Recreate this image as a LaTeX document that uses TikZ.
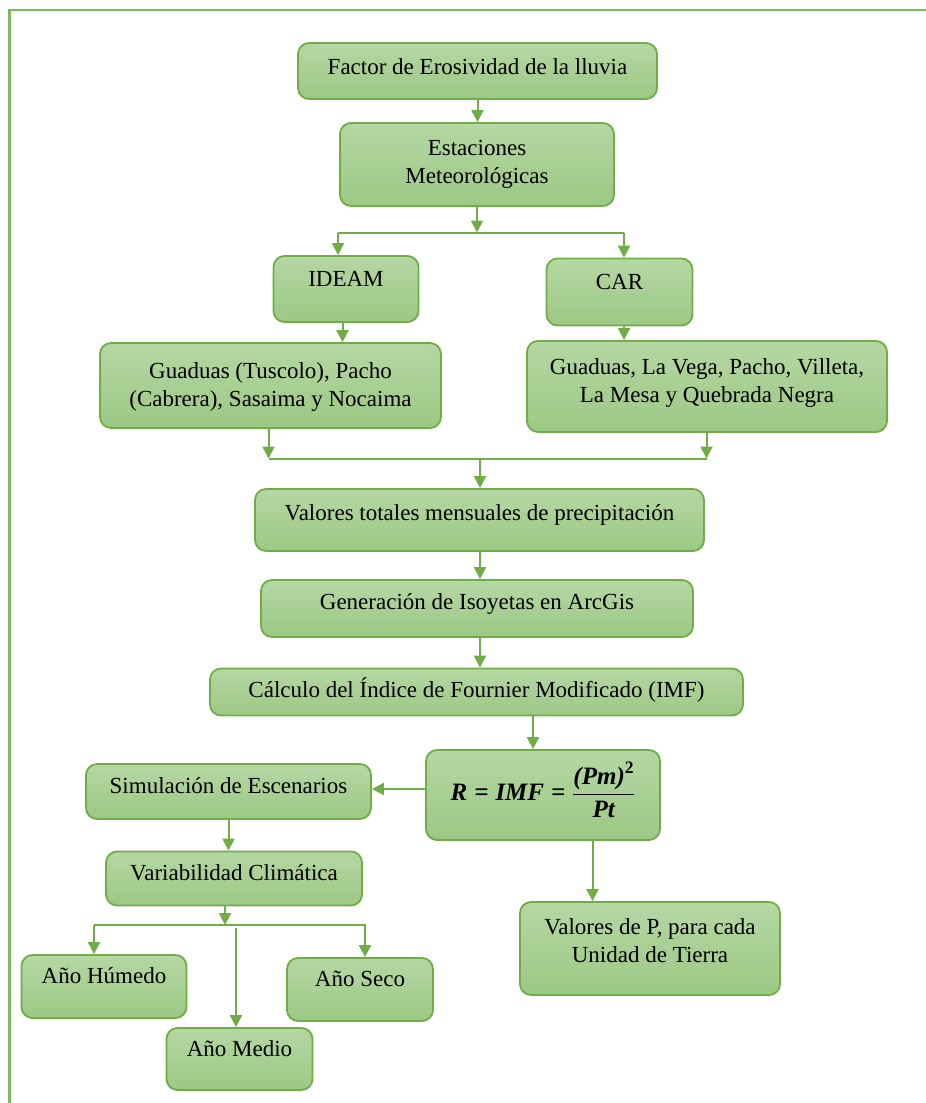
\documentclass[tikz,border=0pt]{standalone}
\usepackage{amsmath}
\usepackage{fontspec}
\setmainfont{Liberation Serif}
\usetikzlibrary{arrows.meta}

\definecolor{boxline}{HTML}{70AD47}
\definecolor{boxtop}{HTML}{B5D7A4}
\definecolor{boxbot}{HTML}{9CC884}
\definecolor{linkcol}{HTML}{70AD47}
\definecolor{framecol}{HTML}{7DBA5B}

\newcommand{\bit}[1]{\text{\bfseries\itshape #1}}

\tikzset{
  box/.style={draw=boxline, line width=1.8pt, rounded corners=11pt,
    top color=boxtop, bottom color=boxbot, inner sep=0pt},
  lbl/.style={font=\fontsize{23}{28}\selectfont, align=center, inner sep=0pt},
  link/.style={draw=linkcol, line width=2pt},
  arr/.style={link, -{Triangle[length=12pt,width=12pt]}},
  frame/.style={draw=framecol, line width=2.2pt},
}

\begin{document}
\begin{tikzpicture}[x=1pt, y=-1pt]
\useasboundingbox (0,0) rectangle (926,1103);

% outer frame
\draw[frame] (9.5,1103) -- (9.5,10) -- (926,10);

% boxes and their texts
\node[box, minimum width=359, minimum height=56] (fac) at (477.5,71) {};
\node[lbl] (fac-t) at (477.5,67) {Factor de Erosividad de la lluvia};

\node[box, minimum width=274, minimum height=83] (est) at (477,164.5) {};
\node[lbl] (est-t) at (477,164) {Estaciones\\Meteorológicas};

\node[box, minimum width=145, minimum height=66] (ideam) at (346,289) {};
\node[lbl] (ideam-t) at (346,278.5) {IDEAM};

\node[box, minimum width=146, minimum height=67] (car) at (619.5,292) {};
\node[lbl] (car-t) at (619.5,281.5) {CAR};

\node[box, minimum width=341, minimum height=85] (lbox) at (270.5,385.5) {};
\node[lbl] (lbox-t) at (270.5,387) {Guaduas (Tuscolo), Pacho\\(Cabrera), Sasaima y Nocaima};

\node[box, minimum width=360, minimum height=91] (rbox) at (707,386.5) {};
\node[lbl] (rbox-t) at (707,382.5) {Guaduas, La Vega, Pacho, Villeta,\\La Mesa y Quebrada Negra};

\node[box, minimum width=449, minimum height=62] (val) at (479.5,520) {};
\node[lbl] (val-t) at (479.5,515) {Valores totales mensuales de precipitación};

\node[box, minimum width=432, minimum height=57] (gen) at (477,608.5) {};
\node[lbl] (gen-t) at (477,604) {Generación de Isoyetas en ArcGis};

\node[box, minimum width=533, minimum height=47] (calc) at (476.5,692) {};
\node[lbl] (calc-t) at (476.5,690) {Cálculo del Índice de Fournier Modificado (IMF)};

\node[box, minimum width=234, minimum height=90] (rbx) at (543,795) {};
\node[lbl, font=\fontsize{25}{30}\selectfont] (rbx-t) at (543,790)
  {$\displaystyle \bit{R\;=\;IMF\;=\;}\frac{\bit{(Pm)}^{\text{\bfseries 2}}}{\bit{Pt}}$};

\node[box, minimum width=285, minimum height=55] (sim) at (228.5,791.5) {};
\node[lbl] (sim-t) at (228.5,785.5) {Simulación de Escenarios};

\node[box, minimum width=256, minimum height=54] (var) at (234,878.5) {};
\node[lbl] (var-t) at (234,872.5) {Variabilidad Climática};

\node[box, minimum width=260, minimum height=93] (pbox) at (650,948.5) {};
\node[lbl] (pbox-t) at (650,941) {Valores de P, para cada\\Unidad de Tierra};

\node[box, minimum width=165, minimum height=63] (hum) at (104,986.5) {};
\node[lbl] (hum-t) at (104,976) {Año Húmedo};

\node[box, minimum width=146, minimum height=63] (seco) at (360,989.5) {};
\node[lbl] (seco-t) at (360,979) {Año Seco};

\node[box, minimum width=146, minimum height=62] (medio) at (239.5,1059) {};
\node[lbl] (medio-t) at (239.5,1049) {Año Medio};

% connectors
\draw[arr] (fac.south) -- (fac.south |- est.north);

\coordinate (sp1) at (478,232.5);
\coordinate (spL) at (338,232.5);
\coordinate (spR) at (624,232.5);
\draw[arr] (est.south) -- (est.south |- sp1);
\draw[link] (spL) -- (spR);
\draw[arr] (spL) -- (spL |- ideam.north);
\draw[arr] (spR) -- (spR |- car.north);

\coordinate (ia) at ([xshift=-3.5pt]ideam.south);
\draw[arr] (ia) -- (ia |- lbox.north);
\coordinate (ca) at ([xshift=4.5pt]car.south);
\draw[arr] (ca) -- (ca |- rbox.north);

\coordinate (mrg) at (480,458.5);
\coordinate (la) at ([xshift=-2pt]lbox.south);
\coordinate (ra) at ([xshift=-0.5pt]rbox.south);
\draw[arr] (la) -- (la |- mrg);
\draw[arr] (ra) -- (ra |- mrg);
\draw[link] (la |- mrg) -- (ra |- mrg);
\draw[arr] (mrg) -- (mrg |- val.north);

\coordinate (va) at ([xshift=0.5pt]val.south);
\draw[arr] (va) -- (va |- gen.north);
\coordinate (ga) at ([xshift=3pt]gen.south);
\draw[arr] (ga) -- (ga |- calc.north);
\coordinate (cb) at ([xshift=56.5pt]calc.south);
\draw[arr] (cb) -- (cb |- rbx.north);

\coordinate (rw) at ([yshift=6pt]rbx.west);
\draw[arr] (rw) -- (rw -| sim.east);
\coordinate (rb) at ([xshift=49.5pt]rbx.south);
\draw[arr] (rb) -- (rb |- pbox.north);

\draw[arr] (sim.south) -- (sim.south |- var.north);

\coordinate (vs) at (225,925);
\coordinate (vL) at (94,925);
\coordinate (vR) at (366,925);
\coordinate (vM) at (236,928);
\coordinate (vb) at ([xshift=-9pt]var.south);
\draw[arr] (vb) -- (vb |- vs);
\draw[link] (vL) -- (vR);
\draw[arr] (vL) -- (vL |- hum.north);
\draw[arr] ([xshift=-1pt]vR) -- ([xshift=-1pt]vR |- seco.north);
\draw[arr] (vM) -- (vM |- medio.north);
\end{tikzpicture}
\end{document}
